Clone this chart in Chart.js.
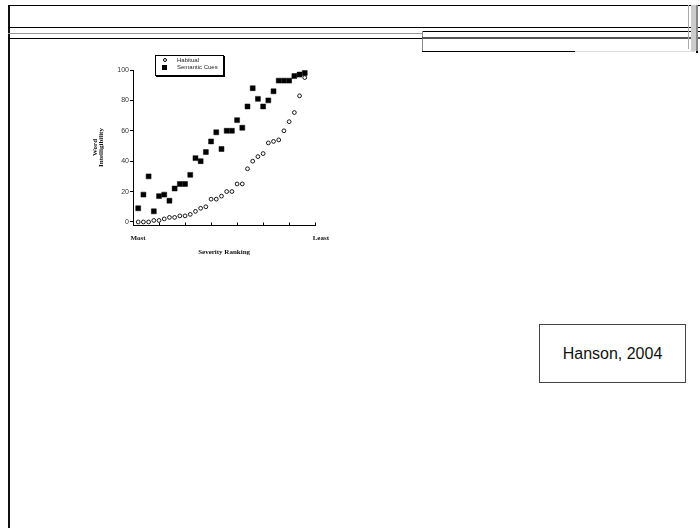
<!DOCTYPE html>
<html lang="en">
<head>
    <meta charset="UTF-8">
    <title>Word Intelligibility by Severity Ranking</title>
    <script src="https://cdn.jsdelivr.net/npm/chart.js"></script>
    <style>
        body {
            margin: 0;
            width: 700px;
            height: 528px;
            background: #fff;
            position: relative;
            overflow: hidden;
            font-family: 'Liberation Sans', Arial, sans-serif;
        }
        .ln { position: absolute; }

        #chartBox {
            position: absolute;
            left: 80px;
            top: 45px;
        }

        #legend {
            position: absolute;
            left: 155px;
            top: 55px;
            width: 67px;
            height: 19px;
            border: 1px solid #000;
            box-shadow: 1px 1px 0 #000;
            background: #fff;
            font-size: 6px;
            color: #222;
        }
        .legend-row {
            position: absolute;
            left: 0;
            height: 7px;
            line-height: 7px;
        }
        .legend-row span.txt { position: absolute; left: 21px; white-space: nowrap; }
        .mk { position: absolute; box-sizing: border-box; }

        #source {
            position: absolute;
            left: 539px;
            top: 324px;
            width: 147px;
            height: 59px;
            box-sizing: border-box;
            border: 1px solid #444;
            font-size: 16px;
            color: #111;
            display: flex;
            align-items: center;
            justify-content: center;
        }
    </style>
</head>
<body>
    <!-- slide frame -->
    <div class="ln" style="left:8px;top:5px;width:2px;height:523px;background:#111"></div>
    <div class="ln" style="left:8px;top:5px;width:692px;height:1px;background:#000"></div>
    <div class="ln" style="left:8px;top:27px;width:692px;height:1px;background:#000"></div>
    <div class="ln" style="left:8px;top:33px;width:414px;height:1px;background:#999"></div>
    <div class="ln" style="left:8px;top:38px;width:414px;height:1px;background:#000"></div>
    <div class="ln" style="left:422px;top:31px;width:278px;height:1px;background:#000"></div>
    <div class="ln" style="left:422px;top:31px;width:1px;height:21px;background:#888"></div>
    <div class="ln" style="left:422px;top:37px;width:278px;height:2px;background:#555"></div>
    <div class="ln" style="left:422px;top:51px;width:153px;height:1px;background:#000"></div>
    <div class="ln" style="left:575px;top:51px;width:120px;height:1px;background:#ddd"></div>
    <div class="ln" style="left:688px;top:5px;width:1px;height:44px;background:#aaa"></div>
    <div class="ln" style="left:691px;top:5px;width:5px;height:46px;background:#ccc"></div>
    <div class="ln" style="left:696px;top:5px;width:2px;height:46px;background:#888"></div>
    <div class="ln" style="left:696px;top:51px;width:2px;height:2px;background:#000"></div>

    <div id="chartBox">
        <canvas id="chart" width="260" height="212"></canvas>
    </div>
    <div id="legend"></div>
    <div id="source">Hanson, 2004</div>

    <script>
        // severity rank position of each speaker (most severe = left)
        const rank = [1, 2, 3, 4, 5, 6, 7, 8, 9, 10, 11, 12, 13, 14, 15, 16, 17,
                      18, 19, 20, 21, 22, 23, 24, 25, 26, 27, 28, 29, 30, 31, 32, 33];

        const habitual = [0, 0, 0, 1, 1, 2, 3, 3, 4, 4, 5, 7, 9, 10, 15, 15, 17,
                          20, 20, 25, 25, 35, 40, 43, 45, 52, 53, 54, 60, 66, 72, 83, 95];

        const semanticCues = [9, 18, 30, 7, 17, 18, 14, 22, 25, 25, 31, 42, 40, 46, 53, 59, 48,
                              60, 60, 67, 62, 76, 88, 81, 76, 80, 86, 93, 93, 93, 96, 97, 98];

        const seriesNames = ["Habitual", "Semantic Cues"];
        const yTicks = [0, 20, 40, 60, 80, 100];
        const xTicks = [0, 5, 10, 15, 20, 25, 30, 35];
        const xTickNames = { 0: "Most", 35: "Least" };

        Chart.defaults.font.family = "'Liberation Sans', Arial, sans-serif";
        Chart.defaults.color = "#222";

        const serifBold = { family: "'Liberation Serif', 'Times New Roman', serif", weight: "bold", size: 7 };

        // x axis tick marks point up into the plot
        const innerTicks = {
            id: "innerTicks",
            afterDraw(chart) {
                const xs = chart.scales.x;
                const ctx = chart.ctx;
                const y0 = Math.round(chart.chartArea.bottom) + 0.5;
                ctx.save();
                ctx.strokeStyle = "#000";
                ctx.lineWidth = 1;
                ctx.beginPath();
                xs.ticks.forEach(t => {
                    if (t.value === 0) return;
                    const px = Math.round(xs.getPixelForValue(t.value)) + 0.5;
                    ctx.moveTo(px, y0);
                    ctx.lineTo(px, y0 - 3);
                });
                ctx.stroke();
                ctx.restore();
            }
        };

        const chart = new Chart(document.getElementById("chart"), {
            type: "scatter",
            data: {
                datasets: [
                    {
                        label: seriesNames[0],
                        data: rank.map((r, i) => ({ x: r, y: habitual[i] })),
                        pointStyle: "circle",
                        pointRadius: 1.9,
                        borderWidth: 0.9,
                        borderColor: "#000",
                        backgroundColor: "#fff"
                    },
                    {
                        label: seriesNames[1],
                        data: rank.map((r, i) => ({ x: r, y: semanticCues[i] })),
                        pointStyle: "rect",
                        pointRadius: 3.5,
                        borderWidth: 0.5,
                        borderColor: "#000",
                        backgroundColor: "#000"
                    }
                ]
            },
            options: {
                responsive: false,
                animation: false,
                layout: { padding: { left: 0, top: 25, right: 23, bottom: 0 } },
                plugins: {
                    legend: { display: false },
                    tooltip: { enabled: false }
                },
                scales: {
                    x: {
                        type: "linear",
                        min: 0,
                        max: 35,
                        afterBuildTicks: s => { s.ticks = xTicks.map(v => ({ value: v })); },
                        afterFit: s => { s.height = 32; },
                        grid: { display: false, drawTicks: false },
                        border: { display: true, color: "#000", width: 1 },
                        ticks: {
                            autoSkip: false,
                            maxRotation: 0,
                            align: "start",
                            labelOffset: -2.5,
                            padding: 8.5,
                            color: "#111",
                            font: serifBold,
                            callback: v => xTickNames[v] || ""
                        },
                        title: {
                            display: true,
                            text: "Severity Ranking",
                            color: "#111",
                            font: serifBold,
                            padding: { top: 0, bottom: 1 }
                        }
                    },
                    y: {
                        min: -2,
                        max: 100,
                        afterBuildTicks: s => { s.ticks = yTicks.map(v => ({ value: v })); },
                        afterFit: s => { s.width = 53; },
                        grid: { drawOnChartArea: false, drawTicks: true, tickLength: 3, color: "#000" },
                        border: { display: true, color: "#000", width: 1 },
                        ticks: {
                            padding: 1,
                            color: "#333",
                            font: { size: 7 }
                        },
                        title: {
                            display: true,
                            text: ["Word", "Intelligibility"],
                            color: "#111",
                            font: { family: serifBold.family, weight: "bold", size: 7, lineHeight: 0.85 },
                            padding: { top: 12.3, bottom: 0 }
                        }
                    }
                }
            },
            plugins: [innerTicks]
        });

        // legend box drawn beside the chart, from the dataset labels
        const legend = document.getElementById("legend");
        chart.data.datasets.forEach((ds, i) => {
            const row = document.createElement("div");
            row.className = "legend-row";
            row.style.top = (4 + i * 7 - 3.5) + "px";
            row.style.width = "100%";
            const mk = document.createElement("div");
            mk.className = "mk";
            if (ds.pointStyle === "circle") {
                mk.style.cssText = "left:7px;top:1.5px;width:4px;height:4px;border:1px solid #000;border-radius:50%;background:#fff";
            } else {
                mk.style.cssText = "left:6px;top:1px;width:5px;height:5px;background:#000";
            }
            const txt = document.createElement("span");
            txt.className = "txt";
            txt.textContent = ds.label;
            row.appendChild(mk);
            row.appendChild(txt);
            legend.appendChild(row);
        });
    </script>
</body>
</html>
